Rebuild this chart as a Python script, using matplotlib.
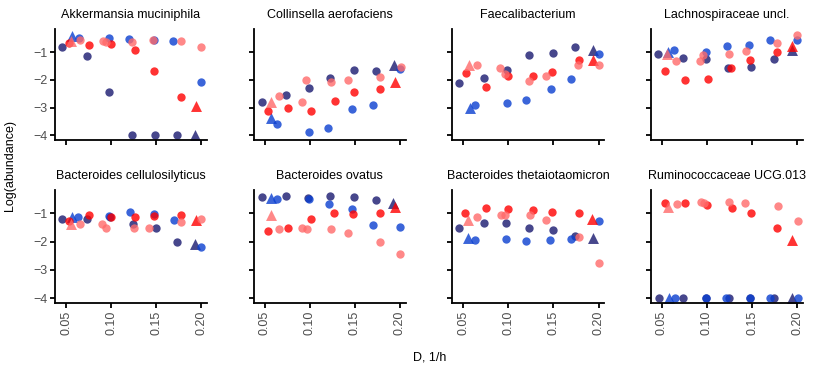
import numpy as np
import matplotlib
matplotlib.use('Agg')
import matplotlib.pyplot as plt

plt.rcParams['font.family'] = ['Liberation Sans', 'DejaVu Sans']

taxa = ['Akkermansia muciniphila', 'Collinsella aerofaciens', 'Faecalibacterium',
        'Lachnospiraceae uncl.', 'Bacteroides cellulosilyticus', 'Bacteroides ovatus',
        'Bacteroides thetaiotaomicron', 'Ruminococcaceae UCG.013']

# series: navy, blue, red, pink ; circles then the triangle (start point)
navy_x = [
    [0.046, 0.073, 0.098, 0.123, 0.149, 0.173],
    [0.047, 0.074, 0.099, 0.123, 0.149, 0.174],
    [0.0455, 0.073, 0.098, 0.123, 0.149, 0.174],
    [0.046, 0.073, 0.099, 0.123, 0.149, 0.174],
    [0.0455, 0.073, 0.099, 0.124, 0.150, 0.173],
    [0.047, 0.074, 0.098, 0.123, 0.149, 0.174],
    [0.045, 0.073, 0.097, 0.123, 0.149, 0.174],
    [0.047, 0.074, 0.099, 0.124, 0.148, 0.174],
]
navy_y = [
    [-0.83, -1.15, -2.44, -4.0, -4.0, -4.0],
    [-2.80, -2.56, -2.31, -1.93, -1.63, -1.69],
    [-2.13, -1.94, -1.65, -1.09, -1.04, -0.82],
    [-1.06, -1.21, -1.24, -1.59, -1.54, -1.25],
    [-1.21, -1.21, -1.12, -1.36, -1.51, -2.00],
    [-0.43, -0.40, -0.44, -0.40, -0.43, -0.52],
    [-1.51, -1.33, -1.33, -1.50, -1.60, -1.80],
    [-4.0, -4.0, -4.0, -4.0, -4.0, -4.0],
]
navy_tri_x = [0.193, 0.193, 0.194, 0.194, 0.193, 0.192, 0.194, 0.194]
navy_tri_y = [-4.0, -1.48, -0.92, -0.94, -2.08, -0.64, -1.86, -4.0]

blue_x = [
    [0.064, 0.098, 0.120, 0.148, 0.169, 0.200],
    [0.064, 0.099, 0.120, 0.147, 0.170, 0.200],
    [0.063, 0.098, 0.120, 0.147, 0.170, 0.200],
    [0.064, 0.099, 0.122, 0.147, 0.170, 0.200],
    [0.063, 0.098, 0.121, 0.147, 0.170, 0.200],
    [0.064, 0.099, 0.121, 0.147, 0.170, 0.200],
    [0.063, 0.097, 0.120, 0.146, 0.169, 0.200],
    [0.065, 0.099, 0.121, 0.148, 0.170, 0.201],
]
blue_y = [
    [-0.50, -0.50, -0.52, -0.56, -0.62, -2.08],
    [-3.60, -3.87, -3.75, -3.06, -2.92, -1.60],
    [-2.91, -2.84, -2.73, -2.32, -1.96, -1.06],
    [-0.94, -1.00, -0.80, -0.74, -0.56, -0.56],
    [-1.12, -1.10, -0.96, -1.02, -1.24, -2.17],
    [-0.50, -0.50, -0.67, -0.85, -1.42, -1.48],
    [-1.95, -1.90, -1.96, -1.93, -1.90, -1.26],
    [-4.0, -4.0, -4.0, -4.0, -4.0, -4.0],
]
blue_tri_x = [0.057, 0.057, 0.057, 0.057, 0.057, 0.057, 0.055, 0.058]
blue_tri_y = [-0.44, -3.36, -3.02, -1.01, -1.14, -0.46, -1.86, -4.0]

red_x = [
    [0.053, 0.075, 0.100, 0.126, 0.148, 0.178],
    [0.054, 0.076, 0.101, 0.128, 0.149, 0.178],
    [0.053, 0.075, 0.100, 0.127, 0.148, 0.178],
    [0.054, 0.076, 0.101, 0.127, 0.148, 0.178],
    [0.053, 0.075, 0.100, 0.127, 0.148, 0.178],
    [0.054, 0.076, 0.101, 0.127, 0.148, 0.178],
    [0.052, 0.075, 0.100, 0.127, 0.148, 0.178],
    [0.054, 0.076, 0.100, 0.128, 0.149, 0.178],
]
red_y = [
    [-0.68, -0.76, -0.70, -0.92, -1.69, -2.62],
    [-3.14, -3.02, -3.11, -2.76, -2.44, -2.35],
    [-1.77, -2.27, -1.86, -1.86, -1.72, -1.29],
    [-1.69, -2.00, -1.96, -1.59, -1.28, -1.00],
    [-1.26, -1.06, -1.14, -1.12, -1.08, -1.06],
    [-1.62, -1.50, -1.21, -1.00, -1.02, -1.00],
    [-0.98, -0.80, -0.86, -0.88, -0.94, -0.98],
    [-0.62, -0.64, -0.70, -0.80, -0.98, -1.50],
]
red_tri_x = [0.194, 0.194, 0.194, 0.194, 0.194, 0.194, 0.193, 0.194]
red_tri_y = [-2.96, -2.08, -1.29, -0.80, -1.24, -0.76, -1.18, -1.93]

pink_x = [
    [0.066, 0.091, 0.094, 0.123, 0.146, 0.178, 0.200],
    [0.066, 0.091, 0.096, 0.124, 0.142, 0.178, 0.201],
    [0.065, 0.091, 0.096, 0.123, 0.142, 0.177, 0.200],
    [0.066, 0.092, 0.096, 0.124, 0.143, 0.178, 0.200],
    [0.066, 0.090, 0.094, 0.125, 0.142, 0.178, 0.200],
    [0.066, 0.092, 0.097, 0.124, 0.142, 0.178, 0.200],
    [0.065, 0.092, 0.096, 0.124, 0.142, 0.178, 0.200],
    [0.067, 0.093, 0.097, 0.125, 0.142, 0.179, 0.201],
]
pink_y = [
    [-0.58, -0.62, -0.64, -0.63, -0.58, -0.62, -0.83],
    [-2.58, -2.80, -2.02, -2.08, -2.01, -1.89, -1.54],
    [-1.45, -1.59, -1.80, -2.04, -1.88, -1.48, -1.45],
    [-1.33, -1.31, -1.10, -1.07, -0.98, -0.68, -0.38],
    [-1.36, -1.38, -1.51, -1.50, -1.50, -1.32, -1.18],
    [-1.54, -1.51, -1.54, -1.54, -1.68, -2.00, -2.45],
    [-1.14, -1.06, -1.06, -1.04, -1.24, -1.82, -2.76],
    [-0.67, -0.61, -0.64, -0.61, -0.64, -0.74, -1.27],
]
pink_tri_x = [0.056, 0.057, 0.056, 0.056, 0.056, 0.057, 0.055, 0.057]
pink_tri_y = [-0.60, -2.80, -1.47, -1.06, -1.36, -1.06, -1.24, -0.76]

series = [
    (navy_x, navy_y, navy_tri_x, navy_tri_y, '#191970'),
    (blue_x, blue_y, blue_tri_x, blue_tri_y, '#0a3fd0'),
    (red_x, red_y, red_tri_x, red_tri_y, '#ff0000'),
    (pink_x, pink_y, pink_tri_x, pink_tri_y, '#ff6a6a'),
]

W, H = 817, 368
fig = plt.figure(figsize=(W / 100, H / 100), dpi=100)

ax_w = 152
lefts = [55 + 198.6 * i for i in range(4)]
rows = [(29, 140), (190, 303)]

for k, name in enumerate(taxa):
    r, c = divmod(k, 4)
    top, bot = rows[r]
    ax = fig.add_axes([lefts[c] / W, (H - bot) / H, ax_w / W, (bot - top) / H])
    for xs, ys, tx, ty, col in series:
        ax.scatter(xs[k], ys[k], s=36, color=col, alpha=0.8, linewidths=0, zorder=2)
        ax.scatter([tx[k]], [ty[k]], s=62, marker='^', color=col, alpha=0.8,
                   linewidths=0, zorder=2)
    ax.set_xlim(0.0378, 0.2063)
    ax.set_ylim(-4.17, -0.17)
    ax.set_xticks([0.05, 0.10, 0.15, 0.20])
    ax.set_yticks([-1, -2, -3, -4])
    for s in ['top', 'right']:
        ax.spines[s].set_visible(False)
    for s in ['left', 'bottom']:
        ax.spines[s].set_linewidth(1.3)
    ax.tick_params(width=1.3, length=3.5, pad=2, labelsize=9, colors='black',
                   labelcolor='#4d4d4d')
    if r == 1:
        ax.set_xticklabels(['0.05', '0.10', '0.15', '0.20'], rotation=90)
    else:
        ax.set_xticklabels([])
    if c == 0:
        ax.set_yticklabels(['\u22121', '\u22122', '\u22123', '\u22124'])
    else:
        ax.set_yticklabels([])
    ax.set_title(name, fontsize=9, pad=8)

fig.text(10 / W, 1 - 165 / H, 'Log(abundance)', rotation=90, ha='center', va='center',
         fontsize=9)
fig.text(430 / W, 1 - 358 / H, 'D, 1/h', ha='center', va='center', fontsize=9)

fig.savefig('out.png', dpi=100)
